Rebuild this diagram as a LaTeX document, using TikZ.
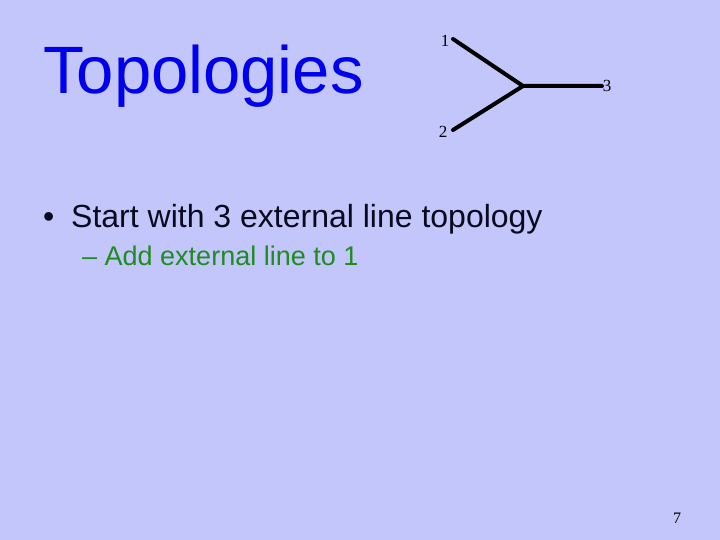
\documentclass[tikz,border=0pt]{standalone}
\usepackage{fontspec}
\setmainfont{Liberation Sans}
\newfontfamily\timesf{Liberation Serif}
\definecolor{slidebg}{RGB}{194,198,250}
\definecolor{titleblue}{RGB}{0,0,238}
\definecolor{subgreen}{RGB}{30,140,30}
\definecolor{bodyblack}{RGB}{10,10,30}
\begin{document}
\begin{tikzpicture}[x=1pt,y=-1pt,
  lbl/.style={font=\timesf\fontsize{17}{17}\selectfont, inner sep=0pt, text=black},
  leg/.style={line width=4pt, black}]
\fill[slidebg] (0,0) rectangle (720,540);
\useasboundingbox (0,0) rectangle (720,540);
\node[anchor=base west, inner sep=0pt, text=titleblue, font=\fontsize{67}{67}\selectfont] (title) at (43,94) {Topologies};
\node[anchor=base west, inner sep=0pt, text=bodyblack, font=\fontsize{32}{32}\selectfont] (bul) at (43,228) {•};
\node[anchor=base west, inner sep=0pt, text=bodyblack, font=\fontsize{32}{32}\selectfont] (b1) at (71,228) {Start with 3 external line topology};
\node[anchor=base west, inner sep=0pt, text=subgreen, font=\fontsize{27}{27}\selectfont] (b2) at (82,265) {– Add external line to 1};
\coordinate (v) at (523,86);
\coordinate (e1) at (453,39);
\coordinate (e2) at (453,130);
\coordinate (e3) at (602,86);
\draw[leg, line cap=round] (e1) -- (v) -- (e3);
\draw[leg, line cap=round] (e2) -- (v);
\node[lbl] (l1) at (445,41) {1};
\node[lbl] (l2) at (443,132) {2};
\node[lbl] (l3) at (607,86) {3};
\node[lbl, font=\timesf\fontsize{16}{16}\selectfont] (pg) at (677,518) {7};
\end{tikzpicture}
\end{document}
